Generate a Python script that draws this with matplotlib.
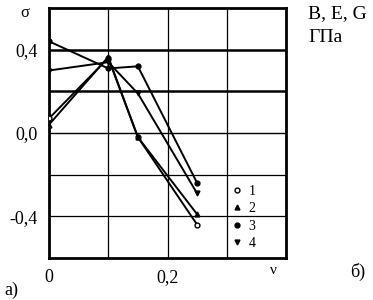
import matplotlib
matplotlib.use("Agg")
import matplotlib.pyplot as plt
from matplotlib.lines import Line2D

plt.rcParams['font.family'] = ['Liberation Serif', 'DejaVu Serif']

x = [0.0, 0.1, 0.15, 0.25]
s1 = [0.07, 0.36, -0.02, -0.44]
s2 = [0.04, 0.365, -0.02, -0.39]
s3 = [0.44, 0.31, 0.32, -0.24]
s4 = [0.30, 0.34, 0.19, -0.29]
series = [s1, s2, s3, s4]
labels = ["1", "2", "3", "4"]
markers = ["o", "^", "o", "v"]
mfc = ["white", "black", "black", "black"]

yticks = [0.4, 0.0, -0.4]
ytick_labels = ["0,4", "0,0", "-0,4"]
xticks = [0.0, 0.2]
xtick_labels = ["0", "0,2"]

fig = plt.figure(figsize=(3.73, 3.0), dpi=100)
ax = fig.add_axes([49/373, 42/300, 237/373, 250/300])
ax.set_xlim(0, 0.4)
ax.set_ylim(-0.6, 0.6)

for xv in [0.1, 0.2, 0.3]:
    ax.axvline(xv, color="black", lw=0.9, zorder=1)
for yv, lw in [(0.4, 1.8), (0.2, 1.8), (0.0, 1.0), (-0.2, 0.9), (-0.4, 0.9)]:
    ax.axhline(yv, color="black", lw=lw, zorder=1)

handles = []
for s, lab, m, fc in zip(series, labels, markers, mfc):
    ax.plot(x, s, color="black", lw=1.4, marker=m, ms=3.5, mfc=fc, mec="black", zorder=3)
    handles.append(Line2D([], [], ls="none", marker=m, ms=3.5, mfc=fc, mec="black", color="black", label=lab))

for sp in ax.spines.values():
    sp.set_linewidth(2.0)

ax.set_xticks(xticks)
ax.set_xticklabels(xtick_labels)
ax.set_yticks(yticks)
ax.set_yticklabels(ytick_labels)
ax.tick_params(length=0, labelsize=13, pad=8)

leg = ax.legend(handles=handles, frameon=False, loc="lower left",
                bbox_to_anchor=(0.74, 0.0), handlelength=0.6, handletextpad=0.55,
                labelspacing=0.3, fontsize=10, borderaxespad=0.2)

fig.text(20/373, 1 - 13/300, "σ", fontsize=12, ha="left", va="center")
fig.text(308/373, 1 - 14/300, "B, E, G", fontsize=14, ha="left", va="center")
fig.text(308/373, 1 - 38/300, "ГПа", fontsize=14, ha="left", va="center")
fig.text(270/373, 1 - 270/300, "ν", fontsize=11, ha="left", va="center")
fig.text(4/373, 1 - 290/300, "а)", fontsize=13, ha="left", va="center")
fig.text(350/373, 1 - 272/300, "б)", fontsize=13, ha="left", va="center")

fig.savefig("out.png", dpi=100)
